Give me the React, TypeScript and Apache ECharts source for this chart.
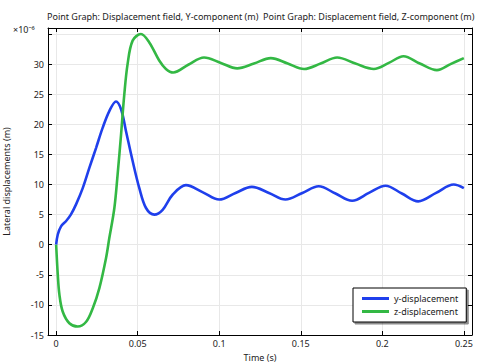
import React, { useEffect, useRef } from "react";
import * as echarts from "echarts";

const xTicks = [0, 0.05, 0.1, 0.15, 0.2, 0.25];
const yLabels = [-15, -10, -5, 0, 5, 10, 15, 20, 25, 30];

const tY = [0, 0.001, 0.003, 0.006, 0.009, 0.0122, 0.0163, 0.0204, 0.0245, 0.0285, 0.0326, 0.0367, 0.0398, 0.0428, 0.0469, 0.051, 0.0551, 0.0602, 0.0653, 0.0714, 0.0796, 0.09, 0.1, 0.11, 0.12, 0.1305, 0.1406, 0.151, 0.161, 0.1713, 0.1815, 0.1918, 0.202, 0.212, 0.222, 0.233, 0.2438, 0.25];
const yDisp = [0, 1.7, 3.05, 3.9, 5.0, 6.7, 9.4, 12.8, 16.1, 19.4, 22.2, 23.8, 22.5, 18.9, 13.9, 9.4, 6.1, 5.0, 5.8, 8.3, 9.9, 8.7, 7.5, 8.6, 9.6, 8.6, 7.5, 8.6, 9.7, 8.5, 7.3, 8.6, 9.8, 8.5, 7.2, 8.6, 10.0, 9.4];

const tZ = [0, 0.001, 0.002, 0.004, 0.0081, 0.0132, 0.0184, 0.0224, 0.0265, 0.0306, 0.0326, 0.0357, 0.0377, 0.0398, 0.0418, 0.0438, 0.0469, 0.052, 0.0571, 0.0632, 0.0673, 0.0718, 0.081, 0.0907, 0.101, 0.111, 0.1213, 0.1316, 0.142, 0.152, 0.1622, 0.1723, 0.1835, 0.1948, 0.204, 0.213, 0.223, 0.2335, 0.2418, 0.25];
const zDisp = [0, -5, -8.3, -11.1, -13.05, -13.6, -12.8, -10.6, -7.2, -2.2, 1.1, 6.1, 11.7, 18.3, 25, 30, 33.9, 35, 33.6, 30.6, 29.2, 28.6, 29.9, 31.1, 30.2, 29.3, 30.1, 31, 30.1, 29.2, 30.1, 31.1, 30.1, 29.2, 30.2, 31.3, 30.1, 29, 30, 31];

const FONT = "Noto Sans";
const TXT = "#222";
const BLUE = "#1f3fec";
const GREEN = "#33b844";

export default function App() {
  const ref = useRef<HTMLDivElement>(null);
  useEffect(() => {
    if (!ref.current) return;
    const chart = echarts.init(ref.current, null, { renderer: "svg" });
    const baseX = {
      type: "value",
      min: -0.005,
      max: 0.255,
      axisLine: { show: true, onZero: false, lineStyle: { color: "#000", width: 1 } },
      axisTick: { show: true, inside: true, length: 4, customValues: xTicks, lineStyle: { color: "#000" } },
      splitLine: { show: false },
    };
    const baseY = {
      type: "value",
      min: -15,
      max: 36,
      interval: 5,
      axisLine: { show: true, onZero: false, lineStyle: { color: "#000", width: 1 } },
      axisTick: { show: true, inside: true, length: 4, lineStyle: { color: "#000" } },
      splitLine: { show: false },
    };
    chart.setOption({
      animation: false,
      backgroundColor: "#fff",
      textStyle: { fontFamily: FONT },
      title: [
        { text: "Point Graph: Displacement field, Y-component (m)", left: 47, top: 12, padding: 0, textStyle: { fontSize: 9, fontWeight: "normal", color: TXT, fontFamily: FONT } },
        { text: "Point Graph: Displacement field, Z-component (m)", left: 263, top: 12, padding: 0, textStyle: { fontSize: 9, fontWeight: "normal", color: TXT, fontFamily: FONT } },
        { text: "×10⁻⁶", left: 13, top: 25, padding: 0, textStyle: { fontSize: 9, fontWeight: "normal", color: TXT, fontFamily: FONT } },
      ],
      grid: { left: 48, right: 9, top: 28, bottom: 28, containLabel: false, outerBoundsMode: "none" },
      legend: {
        orient: "vertical",
        left: 353,
        top: 288,
        padding: [6, 8, 6, 9],
        itemWidth: 27,
        itemHeight: 3,
        itemGap: 4,
        icon: "rect",
        backgroundColor: "#fff",
        borderColor: "#000",
        borderWidth: 1,
        borderRadius: 0,
        shadowColor: "rgba(0,0,0,0.45)",
        shadowOffsetX: 2,
        shadowOffsetY: 2,
        shadowBlur: 1,
        textStyle: { fontSize: 9, color: TXT, fontFamily: FONT },
        data: [
          { name: "y-displacement", icon: "rect", itemStyle: { color: BLUE } },
          { name: "z-displacement", icon: "rect", itemStyle: { color: GREEN } },
        ],
      },
      xAxis: [
        {
          ...baseX,
          position: "bottom",
          name: "Time (s)",
          nameLocation: "middle",
          nameGap: 17,
          nameTextStyle: { fontSize: 9, color: TXT, fontFamily: FONT },
          axisLabel: { show: true, customValues: xTicks, fontSize: 9, color: TXT, margin: 4, fontFamily: FONT },
          splitLine: { show: true, lineStyle: { color: "#e8e8e8", width: 1 } },
        },
        { ...baseX, position: "top", axisLabel: { show: false } },
      ],
      yAxis: [
        {
          ...baseY,
          position: "left",
          name: "Lateral displacements (m)",
          nameLocation: "middle",
          nameGap: 37,
          nameTextStyle: { fontSize: 9, color: TXT, fontFamily: FONT },
          axisLabel: {
            show: true,
            fontSize: 9,
            color: TXT,
            margin: 4,
            fontFamily: FONT,
            showMaxLabel: false,
            formatter: (v: number) => (yLabels.indexOf(v) >= 0 ? String(v) : ""),
          },
          splitLine: { show: true, lineStyle: { color: "#e8e8e8", width: 1 } },
        },
        { ...baseY, position: "right", axisLabel: { show: false } },
      ],
      series: [
        {
          name: "y-displacement",
          type: "line",
          data: tY.map((t, i) => [t, yDisp[i]]),
          symbol: "none",
          showSymbol: false,
          smooth: 0.35,
          lineStyle: { color: BLUE, width: 2.6 },
          itemStyle: { color: BLUE },
        },
        {
          name: "z-displacement",
          type: "line",
          data: tZ.map((t, i) => [t, zDisp[i]]),
          symbol: "none",
          showSymbol: false,
          smooth: 0.35,
          lineStyle: { color: GREEN, width: 2.6 },
          itemStyle: { color: GREEN },
        },
      ],
    });
    return () => chart.dispose();
  }, []);
  return <div ref={ref} style={{ width: 481, height: 363, position: "absolute", left: 0, top: 0 }} />;
}
